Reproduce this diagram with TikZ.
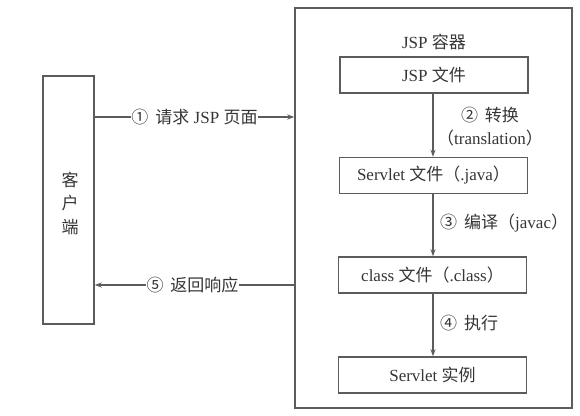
\documentclass[tikz,border=0pt]{standalone}
\usepackage{fontspec}
\setmainfont{Liberation Serif}
\newfontfamily\cjk{Noto Sans CJK SC}
\newcommand{\zh}[1]{{\cjk #1}}
\newcommand{\cn}[1]{{\cjk #1}\hspace{7pt}}
\usetikzlibrary{arrows.meta}
\definecolor{lncol}{HTML}{5C5C5C}
\definecolor{txcol}{HTML}{353535}
\tikzset{
  box/.style={draw=lncol, line width=1.4pt, minimum width=188pt, minimum height=36pt, inner sep=0pt, text=txcol, font=\fontsize{17}{20}\selectfont},
  conn/.style={draw=lncol, line width=1.4pt, -{Stealth[length=7pt,width=5pt]}},
  lbl/.style={text=txcol, font=\fontsize{17}{23}\selectfont, inner sep=1pt},
}
\begin{document}
\begin{tikzpicture}[x=1pt,y=-1pt]
\useasboundingbox (0,0) rectangle (580,415);
% container
\node[draw=lncol, line width=1.4pt, minimum width=277pt, minimum height=400pt, inner sep=0pt] (cont) at (433.5,208) {};
\node[lbl] (contlbl) at (434,42) {JSP \zh{容器}};
% client
\node[draw=lncol, line width=1.4pt, minimum width=51pt, minimum height=248pt, inner sep=0pt] (client) at (68.5,200) {};
\node[lbl, align=center, font=\cjk\fontsize{17}{23.5}\selectfont] (clientlbl) at (70,203) {客\\户\\端};
% inner boxes
\node[box] (jsp) at (434,75) {JSP \zh{文件}};
\node[box] (servlet) at (433.5,175.5) {Servlet \zh{文件（}.java\zh{）}};
\node[box] (class) at (432.5,275) {class \zh{文件（}.class\zh{）}};
\node[box] (inst) at (432.5,375) {Servlet \zh{实例}};
% vertical arrows
\draw[conn] (jsp.south -| 433,0) -- (servlet.north -| 433,0);
\draw[conn] (servlet.south -| 433,0) -- (class.north -| 433,0);
\draw[conn] (class.south -| 433,0) -- (inst.north -| 433,0);
\node[lbl, align=center] (l2) at (490,127) {\cn{②}\zh{转换}\\\zh{（}translation\zh{）}};
\node[lbl, anchor=west] (l3) at (439,223) {\cn{③}\zh{编译（}javac\zh{）}};
\node[lbl, anchor=west] (l4) at (439,323) {\cn{④}\zh{执行}};
% horizontal arrows
\coordinate (a1) at (0,117);
\coordinate (a5) at (0,285);
\draw[conn] (client.east |- a1) -- node[lbl, fill=white, inner sep=0.5pt] (l1) {\cn{①}\zh{请求} JSP \zh{页面}} (cont.west |- a1);
\draw[conn] (cont.west |- a5) -- node[lbl, fill=white, inner sep=0.5pt, xshift=-2pt] (l5) {\cn{⑤}\zh{返回响应}} (client.east |- a5);
\end{tikzpicture}
\end{document}
